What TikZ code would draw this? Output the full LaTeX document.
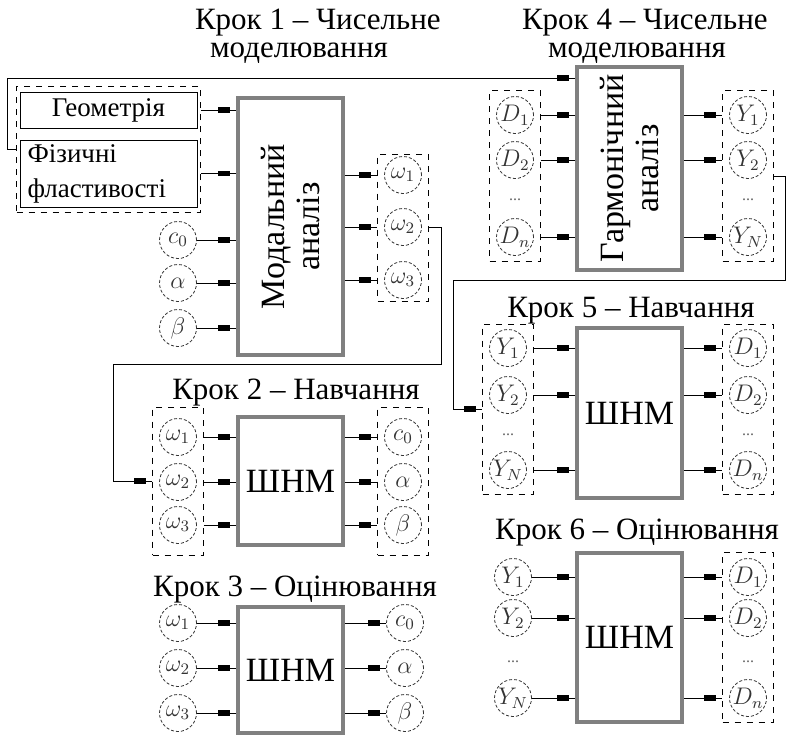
\documentclass[tikz,border=0pt]{standalone}
\usepackage{fontspec}
\setmainfont{Liberation Serif}
\usetikzlibrary{fit,decorations.markings}

\begin{document}
\begin{tikzpicture}[
    x=0.5pt, y=-0.5pt,
    blk/.style={draw=gray, line width=2pt, minimum width=52.5pt, inner sep=0pt, font=\fontsize{17}{19}\selectfont},
    boxtext/.style={rotate=90, align=center, font=\fontsize{17}{17.5}\selectfont},
    inp/.style={circle, draw=black!80, dash pattern=on 1.5pt off 1pt, minimum size=18.5pt, inner sep=0pt, text=black!80, font=\fontsize{12}{13}\selectfont},
    grp/.style={draw, dashed, inner xsep=3.25pt},
    note/.style={draw, inner sep=0pt, font=\fontsize{13.5}{17.5}\selectfont},
    head/.style={font=\fontsize{15.5}{14}\selectfont},
    gap/.style={text=black!60, font=\fontsize{8}{8}\selectfont},
    link/.style={postaction={decorate}, decoration={markings, mark=at position -3pt with {\fill (-6pt,-1.3pt) rectangle (0,1.3pt);}}},
  ]
    \useasboundingbox (0,0) rectangle (788,736);

    \node[head, anchor=west, align=left] (t1) at (188,36) {Крок 1 – Чисельне\\\hspace*{7.5pt}моделювання};
    \node[head, anchor=west, align=left] (t4) at (515,36) {Крок 4 – Чисельне\\\hspace*{13pt}моделювання};
    \node[head] (t2) at (296,393) {Крок 2 – Навчання};
    \node[head] (t3) at (295,590) {Крок 3 – Оцінювання};
    \node[head] (t5) at (631,311) {Крок 5 – Навчання};
    \node[head] (t6) at (637,533) {Крок 6 – Оцінювання};

    \node[note, minimum width=88.5pt, minimum height=18pt] (geo) at (108.5,110) {Геометрія};
    \node[note, text width=81pt, align=left, inner xsep=3.75pt, minimum height=33.5pt] (fiz) at (108.5,173.5) {Фізичні\\фластивості};
    \node[grp, inner xsep=1.5pt, inner ysep=2.5pt, fit=(geo)(fiz)] (g1) {};
    \node[blk, minimum height=128.5pt, label={[boxtext]center:Модальний\\аналіз}] (mod) at (290.5,226.5) {};
    \node[inp] (c0) at (178,240) {$c_0$};
    \node[inp] (al) at (178,283) {$\alpha$};
    \node[inp] (be) at (178,328) {$\beta$};
    \node[inp] (w1) at (403,175) {$\omega_1$};
    \node[inp] (w2) at (403,227) {$\omega_2$};
    \node[inp] (w3) at (403,280) {$\omega_3$};
    \node[grp, inner ysep=1pt, fit=(w1)(w3)] (wg) {};

    \node[blk, minimum height=64pt] (s2) at (290.5,481) {ШНМ};
    \node[inp] (q1) at (178,437) {$\omega_1$};
    \node[inp] (q2) at (178,482) {$\omega_2$};
    \node[inp] (q3) at (178,525) {$\omega_3$};
    \node[grp, inner ysep=5.5pt, fit=(q1)(q3)] (g2l) {};
    \node[inp] (p1) at (403,437) {$c_0$};
    \node[inp] (p2) at (403,482) {$\alpha$};
    \node[inp] (p3) at (403,525) {$\beta$};
    \node[grp, inner ysep=5.5pt, fit=(p1)(p3)] (g2r) {};

    \node[blk, minimum height=63pt] (s3) at (290.5,670) {ШНМ};
    \node[inp] (e1) at (178,623) {$\omega_1$};
    \node[inp] (e2) at (178,668) {$\omega_2$};
    \node[inp] (e3) at (178,713) {$\omega_3$};
    \node[inp] (o1) at (405,623) {$c_0$};
    \node[inp] (o2) at (405,668) {$\alpha$};
    \node[inp] (o3) at (405,713) {$\beta$};

    \node[blk, minimum height=101.5pt, label={[boxtext]center:Гармонічний\\аналіз}] (harm) at (629.5,168.5) {};
    \node[inp] (d1) at (515,115) {$D_1$};
    \node[inp] (d2) at (515,160) {$D_2$};
    \node[gap] (dg) at (515,200) {...};
    \node[inp] (dn) at (515,237) {$D_n$};
    \node[grp, inner ysep=2.75pt, fit=(d1)(dn)] (g4l) {};
    \node[inp] (y1) at (748,115) {$Y_1$};
    \node[inp] (y2) at (748,160) {$Y_2$};
    \node[gap] (yg) at (748,200) {...};
    \node[inp] (yn) at (748,237) {$Y_N$};
    \node[grp, inner ysep=2.75pt, fit=(y1)(yn)] (g4r) {};

    \node[blk, minimum height=85pt] (s5) at (629.5,413) {ШНМ};
    \node[inp] (a1) at (508,348) {$Y_1$};
    \node[inp] (a2) at (508,395) {$Y_2$};
    \node[gap] (ag) at (508,435) {...};
    \node[inp] (an) at (508,470) {$Y_N$};
    \node[grp, inner ysep=2.5pt, fit=(a1)(an)] (g5l) {};
    \node[inp] (b1) at (748,348) {$D_1$};
    \node[inp] (b2) at (748,395) {$D_2$};
    \node[gap] (bg) at (748,435) {...};
    \node[inp] (bn) at (748,470) {$D_n$};
    \node[grp, inner ysep=2.5pt, fit=(b1)(bn)] (g5r) {};

    \node[blk, minimum height=84.5pt] (s6) at (629.5,637.5) {ШНМ};
    \node[inp] (u1) at (513,577) {$Y_1$};
    \node[inp] (u2) at (513,618) {$Y_2$};
    \node[gap] (ug) at (513,662) {...};
    \node[inp] (un) at (513,698) {$Y_N$};
    \node[inp] (v1) at (748,577) {$D_1$};
    \node[inp] (v2) at (748,618) {$D_2$};
    \node[gap] (vg) at (748,662) {...};
    \node[inp] (vn) at (748,698) {$D_n$};
    \node[grp, inner ysep=2.75pt, fit=(v1)(vn)] (g6r) {};

    \draw[link] (g1.east |- geo) -- (mod.west |- geo);
    \draw[link] (g1.east |- fiz) -- (mod.west |- fiz);
    \draw[link] (c0) -- (mod.west |- c0);
    \draw[link] (al) -- (mod.west |- al);
    \draw[link] (be) -- (mod.west |- be);
    \draw[link] (mod.east |- w1) -- (wg.west |- w1);
    \draw[link] (mod.east |- w2) -- (wg.west |- w2);
    \draw[link] (mod.east |- w3) -- (wg.west |- w3);

    \draw[link] (g2l.east |- q1) -- (s2.west |- q1);
    \draw[link] (g2l.east |- q2) -- (s2.west |- q2);
    \draw[link] (g2l.east |- q3) -- (s2.west |- q3);
    \draw[link] (s2.east |- p1) -- (g2r.west |- p1);
    \draw[link] (s2.east |- p2) -- (g2r.west |- p2);
    \draw[link] (s2.east |- p3) -- (g2r.west |- p3);

    \draw[link] (e1) -- (s3.west |- e1);
    \draw[link] (e2) -- (s3.west |- e2);
    \draw[link] (e3) -- (s3.west |- e3);
    \draw[link] (s3.east |- o1) -- (o1);
    \draw[link] (s3.east |- o2) -- (o2);
    \draw[link] (s3.east |- o3) -- (o3);

    \draw[link] (g4l.east |- d1) -- (harm.west |- d1);
    \draw[link] (g4l.east |- d2) -- (harm.west |- d2);
    \draw[link] (g4l.east |- dn) -- (harm.west |- dn);
    \draw[link] (harm.east |- y1) -- (g4r.west |- y1);
    \draw[link] (harm.east |- y2) -- (g4r.west |- y2);
    \draw[link] (harm.east |- yn) -- (g4r.west |- yn);

    \draw[link] (g5l.east |- a1) -- (s5.west |- a1);
    \draw[link] (g5l.east |- a2) -- (s5.west |- a2);
    \draw[link] (g5l.east |- an) -- (s5.west |- an);
    \draw[link] (s5.east |- b1) -- (g5r.west |- b1);
    \draw[link] (s5.east |- b2) -- (g5r.west |- b2);
    \draw[link] (s5.east |- bn) -- (g5r.west |- bn);

    \draw[link] (u1) -- (s6.west |- u1);
    \draw[link] (u2) -- (s6.west |- u2);
    \draw[link] (un) -- (s6.west |- un);
    \draw[link] (s6.east |- v1) -- (g6r.west |- v1);
    \draw[link] (s6.east |- v2) -- (g6r.west |- v2);
    \draw[link] (s6.east |- vn) -- (g6r.west |- vn);

    \draw[link] (g1.west) -- ++(-4.5pt,0) |- ([yshift=-6.5pt]harm.north west);
    \draw[link] (wg.east) -| (441,364) -| ([xshift=-19.5pt]g2l.west) -- (g2l.west);
    \draw[link] (g4r.east) -- ++(6pt,0) |- (453,280) |- (g5l.west);
\end{tikzpicture}
\end{document}
